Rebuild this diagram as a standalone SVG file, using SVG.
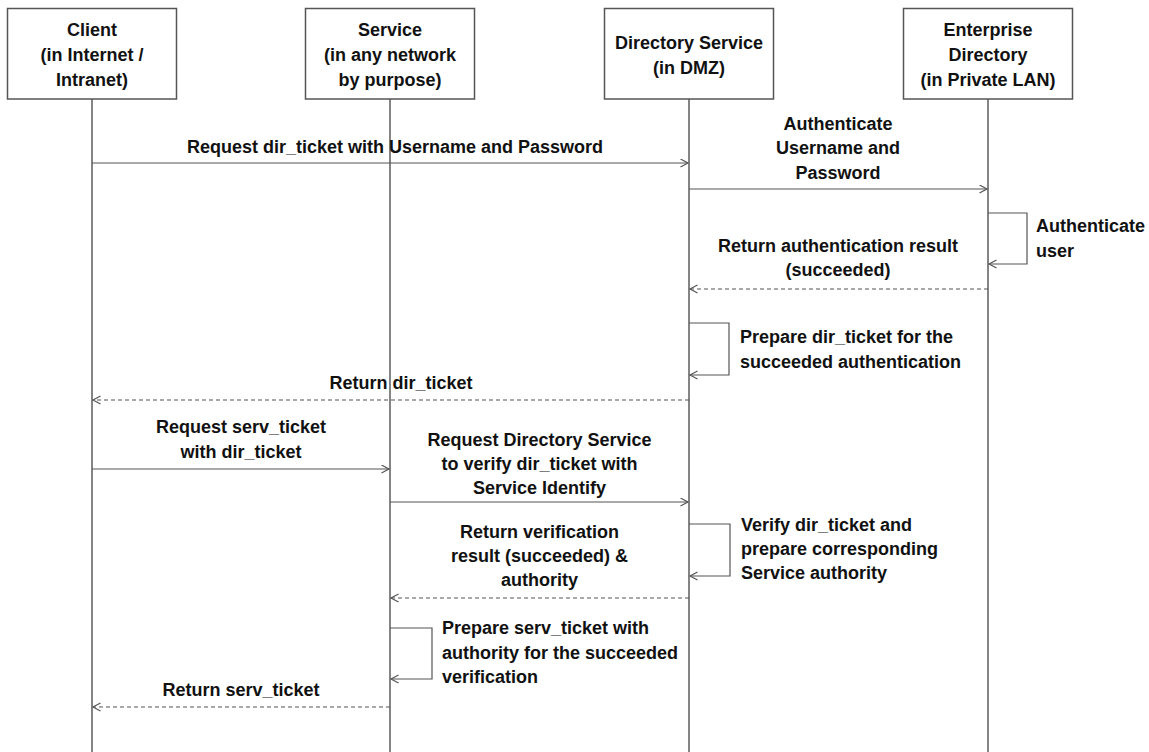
<svg xmlns="http://www.w3.org/2000/svg" width="1149" height="752" viewBox="0 0 1149 752">
  <defs>
    <style>
      .box { fill: #ffffff; stroke: #555555; stroke-width: 1.5; }
      .life { stroke: #333333; stroke-width: 1.2; fill: none; }
      .msg { stroke: #555555; stroke-width: 1.2; fill: none; marker-end: url(#arrow); }
      .ret { stroke: #555555; stroke-width: 1.2; fill: none; stroke-dasharray: 4 3; marker-end: url(#arrow); }
      text { font-family: "Liberation Sans", Arial, sans-serif; font-weight: bold; font-size: 18px; fill: #111111; }
      .c { text-anchor: middle; }
      .l { text-anchor: start; }
    </style>
    <marker id="arrow" markerUnits="userSpaceOnUse" markerWidth="10" markerHeight="10" refX="8" refY="4.5" orient="auto">
      <path d="M0.5,0.5 L8,4.5 L0.5,8.5" fill="none" stroke="#555555" stroke-width="1.2"/>
    </marker>
  </defs>
  <rect x="0" y="0" width="1149" height="752" fill="#ffffff"/>

  <g id="lifelines">
    <line class="life" x1="92" y1="99" x2="92" y2="752"/>
    <line class="life" x1="390" y1="99" x2="390" y2="752"/>
    <line class="life" x1="689" y1="99" x2="689" y2="752"/>
    <line class="life" x1="988" y1="99" x2="988" y2="752"/>
  </g>

  <g id="node-client">
    <rect class="box" x="7.5" y="8.5" width="169" height="90.5"/>
    <text class="c" x="92" y="36">Client</text>
    <text class="c" x="92" y="61">(in Internet /</text>
    <text class="c" x="92" y="86">Intranet)</text>
  </g>
  <g id="node-service">
    <rect class="box" x="305.5" y="8.5" width="169" height="90.5"/>
    <text class="c" x="390" y="36">Service</text>
    <text class="c" x="390" y="61">(in any network</text>
    <text class="c" x="390" y="86">by purpose)</text>
  </g>
  <g id="node-directory-service">
    <rect class="box" x="604.5" y="8.5" width="169" height="90.5"/>
    <text class="c" x="689" y="49">Directory Service</text>
    <text class="c" x="689" y="74">(in DMZ)</text>
  </g>
  <g id="node-enterprise-directory">
    <rect class="box" x="903.5" y="8.5" width="169" height="90.5"/>
    <text class="c" x="988" y="36">Enterprise</text>
    <text class="c" x="988" y="61">Directory</text>
    <text class="c" x="988" y="86">(in Private LAN)</text>
  </g>

  <g id="connectors">
    <line class="msg" x1="92" y1="163" x2="688" y2="163"/>
    <line class="msg" x1="689" y1="189" x2="987" y2="189"/>
    <polyline class="msg" points="988,213 1027,213 1027,264 989,264"/>
    <line class="ret" x1="988" y1="289" x2="690" y2="289"/>
    <polyline class="msg" points="689,323 729,323 729,375 690,375"/>
    <line class="ret" x1="689" y1="400" x2="93" y2="400"/>
    <line class="msg" x1="92" y1="469" x2="389" y2="469"/>
    <line class="msg" x1="390" y1="502" x2="688" y2="502"/>
    <polyline class="msg" points="689,524 730,524 730,576 690,576"/>
    <line class="ret" x1="689" y1="598" x2="391" y2="598"/>
    <polyline class="msg" points="390,628 432,628 432,679 391,679"/>
    <line class="ret" x1="390" y1="707" x2="93" y2="707"/>
  </g>

  <g id="labels">
    <text class="c" x="395" y="153">Request dir_ticket with Username and Password</text>
    <text class="c" x="838" y="130">Authenticate</text>
    <text class="c" x="838" y="154">Username and</text>
    <text class="c" x="838" y="179">Password</text>
    <text class="l" x="1036" y="232">Authenticate</text>
    <text class="l" x="1036" y="257">user</text>
    <text class="c" x="838" y="252">Return authentication result</text>
    <text class="c" x="838" y="276">(succeeded)</text>
    <text class="l" x="740" y="343">Prepare dir_ticket for the</text>
    <text class="l" x="740" y="368">succeeded authentication</text>
    <text class="c" x="401" y="389">Return dir_ticket</text>
    <text class="c" x="241" y="433">Request serv_ticket</text>
    <text class="c" x="241" y="458">with dir_ticket</text>
    <text class="c" x="539.5" y="446">Request Directory Service</text>
    <text class="c" x="539.5" y="470">to verify dir_ticket with</text>
    <text class="c" x="539.5" y="494">Service Identify</text>
    <text class="l" x="741" y="531">Verify dir_ticket and</text>
    <text class="l" x="741" y="555">prepare corresponding</text>
    <text class="l" x="741" y="579">Service authority</text>
    <text class="c" x="539.5" y="538">Return verification</text>
    <text class="c" x="539.5" y="562">result (succeeded) &amp;</text>
    <text class="c" x="539.5" y="586">authority</text>
    <text class="l" x="442" y="634">Prepare serv_ticket with</text>
    <text class="l" x="442" y="659">authority for the succeeded</text>
    <text class="l" x="442" y="683">verification</text>
    <text class="c" x="241" y="696">Return serv_ticket</text>
  </g>
</svg>
